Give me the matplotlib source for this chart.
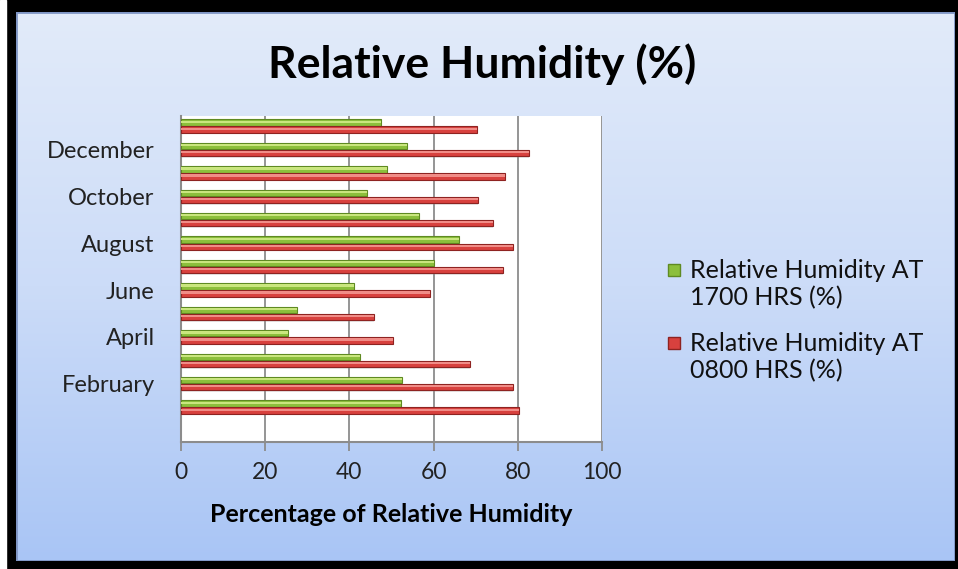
import matplotlib.pyplot as plt
import numpy as np
from matplotlib.patches import Rectangle
from matplotlib.colors import LinearSegmentedColormap

plt.rcParams['font.family'] = ['Lato', 'DejaVu Sans']

# January at the bottom, annual mean (unlabelled) at the top
categories = ['January', 'February', 'March', 'April', 'May', 'June', 'July',
              'August', 'September', 'October', 'November', 'December', 'Mean']
rh_1700 = [52.2, 52.4, 42.4, 25.5, 27.5, 41.2, 60.2, 66.0, 56.6, 44.1, 48.9, 53.8, 47.5]
rh_0800 = [80.4, 78.9, 68.6, 50.3, 45.8, 59.1, 76.6, 78.9, 74.2, 70.6, 77.0, 82.7, 70.3]
label_1700 = 'Relative Humidity AT\n1700 HRS (%)'
label_0800 = 'Relative Humidity AT\n0800 HRS (%)'

W, H = 958, 569
fig = plt.figure(figsize=(W / 100, H / 100), dpi=100, facecolor='black')

# white strip at the far left, as in the screenshot
fig.patches.append(Rectangle((0, 0), 6 / W, 1, transform=fig.transFigure,
                             color='white', zorder=0))

# chart area with blue gradient
bg = fig.add_axes([16 / W, (H - 561) / H, (955 - 16) / W, (561 - 12) / H])
grad = np.linspace(0, 1, 256).reshape(-1, 1)
cmap = LinearSegmentedColormap.from_list('bgblue', ['#E2EBFA', '#CCDCF8', '#A9C5F5'])
bg.imshow(grad, aspect='auto', cmap=cmap, extent=[0, 1, 0, 1])
bg.add_patch(Rectangle((0, 0), 1, 1, transform=bg.transAxes, fill=False,
                       edgecolor='#7F95C4', lw=2))
bg.axis('off')

ax = fig.add_axes([181 / W, (H - 442) / H, (602 - 181) / W, (442 - 116) / H])
ax.set_facecolor('white')

y = np.arange(len(categories))
h = 0.27
off = 0.15

# shadows
ax.barh(y + off - 0.07, rh_1700, height=h, color='#999999', alpha=0.25, zorder=2)
ax.barh(y - off - 0.07, rh_0800, height=h, color='#999999', alpha=0.25, zorder=2)
# bars
ax.barh(y + off, rh_1700, height=h, color='#8CBF3C', edgecolor='#5F8A22', lw=0.8, zorder=3)
ax.barh(y - off, rh_0800, height=h, color='#D8413E', edgecolor='#8E2321', lw=0.8, zorder=3)
# highlights
ax.barh(y + off + 0.04, rh_1700, height=h * 0.35, color='#C9E67E', lw=0, zorder=4)
ax.barh(y - off + 0.04, rh_0800, height=h * 0.35, color='#F08C87', lw=0, zorder=4)

ax.set_xlim(0, 100)
ax.set_ylim(-1.49, 12.43)
ax.set_xticks([0, 20, 40, 60, 80, 100])
ax.xaxis.grid(True, color='#8C8C8C', lw=1.3, zorder=1)
ax.set_axisbelow(True)

show = [1, 3, 5, 7, 9, 11]
ax.set_yticks(show)
ax.set_yticklabels([categories[i] for i in show])

for s in ['top', 'right']:
    ax.spines[s].set_visible(False)
for s in ['left', 'bottom']:
    ax.spines[s].set_color('#8C8C8C')
    ax.spines[s].set_linewidth(1.5)

ax.tick_params(axis='x', direction='out', length=6.5, width=1.3, color='#8C8C8C',
               labelsize=16.5, pad=8, labelcolor='#222222')
ax.tick_params(axis='y', length=0, labelsize=17, pad=19, labelcolor='#222222')

ax.set_xlabel('Percentage of Relative Humidity', fontsize=18, fontweight='bold',
              labelpad=14)

fig.text(482 / W, 1 - 64 / H, 'Relative Humidity (%)', fontsize=32,
         fontweight='bold', ha='center', va='center')

# legend drawn by hand so the swatch sits on the first text line
legend_items = [(label_1700, '#8CBF3C', '#5F8A22', 270),
                (label_0800, '#D8413E', '#8E2321', 343)]
for text, fc, ec, ytop in legend_items:
    fig.patches.append(Rectangle((668 / W, 1 - (ytop + 6) / H), 12 / W, 12 / H,
                                 transform=fig.transFigure, facecolor=fc,
                                 edgecolor=ec, lw=1, zorder=5))
    fig.text(690 / W, 1 - (ytop + 14) / H, text, fontsize=18, ha='left',
             va='center', linespacing=1.24, color='#111111')

fig.savefig('out.png', dpi=100, facecolor=fig.get_facecolor())
